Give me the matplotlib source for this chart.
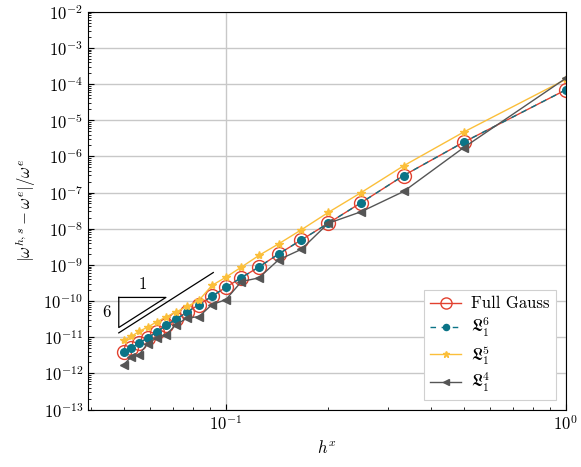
import numpy as np
import matplotlib
matplotlib.use("Agg")
import matplotlib.pyplot as plt
from matplotlib.ticker import LogLocator, NullFormatter

plt.rcParams['font.family'] = 'serif'
plt.rcParams['font.serif'] = ['cmr10']
plt.rcParams['mathtext.fontset'] = 'cm'
plt.rcParams['axes.formatter.use_mathtext'] = True
plt.rcParams['axes.unicode_minus'] = False

# number of elements n, h = 1/n
n = np.arange(1, 21)
h = 1.0 / n

# log10 of relative error (n = 1..20)
log_gauss = [-4.16, -5.61, -6.53, -7.28, -7.85, -8.31, -8.70, -9.06, -9.35, -9.62,
             -9.87, -10.10, -10.30, -10.50, -10.67, -10.86, -11.02, -11.16, -11.30, -11.41]
log_l6 = log_gauss
log_l5 = [-3.87, -5.33, -6.26, -7.00, -7.55, -8.03, -8.42, -8.74, -9.06, -9.34,
          -9.57, -9.98, -10.15, -10.30, -10.44, -10.58, -10.72, -10.84, -10.98, -11.09]
log_l4 = [-3.84, -5.76, -6.97, -7.53, -7.85, -8.57, -8.86, -9.36, -9.46, -9.96,
          -10.10, -10.43, -10.47, -10.65, -10.93, -11.02, -11.18, -11.48, -11.55, -11.76]

fig = plt.figure(figsize=(5.81, 4.67), dpi=100)
ax = fig.add_axes([0.1515, 0.123, 0.8225, 0.852])

ax.loglog(h, 10.0**np.array(log_gauss), '-o', color='#e2412f', mfc='none', mec='#e2412f',
          ms=10, lw=1.0, label='Full Gauss')
ax.loglog(h, 10.0**np.array(log_l6), '--o', color='#0b7487', ms=5.5, lw=1.0,
          dashes=(4, 4), label=r'$\mathfrak{L}_1^6$')
ax.loglog(h, 10.0**np.array(log_l5), '-*', color='#fbbf3a', ms=6, lw=1.0,
          label=r'$\mathfrak{L}_1^5$')
ax.loglog(h, 10.0**np.array(log_l4), '-<', color='#555555', ms=6, lw=1.0,
          label=r'$\mathfrak{L}_1^4$')

# slope triangle (order 6)
x0, x1 = 0.0484, 0.0666
y_top = 10**-9.90
y_bot = y_top / (x1 / x0)**6
ax.plot([x0, x1, x0, x0], [y_top, y_top, y_bot, y_top], color='black', lw=0.9)
ax.text(np.sqrt(x0 * x1), y_top * 1.4, '1', ha='center', va='bottom', fontsize=12)
ax.text(x0 * 0.95, np.sqrt(y_top * y_bot), '6', ha='right', va='center', fontsize=12)
xs = np.array([0.0484, 0.0918])
ax.plot(xs, 10**-10.88 * (xs / xs[0])**6, color='black', lw=0.9)

ax.set_xlim(0.0393, 1.0)
ax.set_ylim(1e-13, 1e-2)
ax.yaxis.set_major_locator(LogLocator(base=10, numticks=20))
ax.yaxis.set_minor_locator(LogLocator(base=10, subs=np.arange(2, 10), numticks=20))
ax.yaxis.set_minor_formatter(NullFormatter())
ax.xaxis.set_minor_formatter(NullFormatter())
ax.tick_params(which='both', direction='in', labelsize=12)
ax.tick_params(which='major', length=4)
ax.tick_params(which='minor', length=2.5)
ax.grid(True, which='major', color='#c8c8c8', lw=1.0)
ax.set_axisbelow(True)

ax.set_xlabel(r'$h^x$', fontsize=12)
ax.set_ylabel(r'$|\omega^{h,s}-\omega^e|/\omega^e$', fontsize=12)

leg = ax.legend(loc='lower right', fontsize=12, fancybox=False, framealpha=1.0,
                edgecolor='#d0d0d0', handlelength=1.9, borderaxespad=0.6,
                labelspacing=0.25, markerscale=0.8, borderpad=0.35, handletextpad=0.6)
leg.get_frame().set_linewidth(0.8)

fig.savefig('out.png', dpi=100)
